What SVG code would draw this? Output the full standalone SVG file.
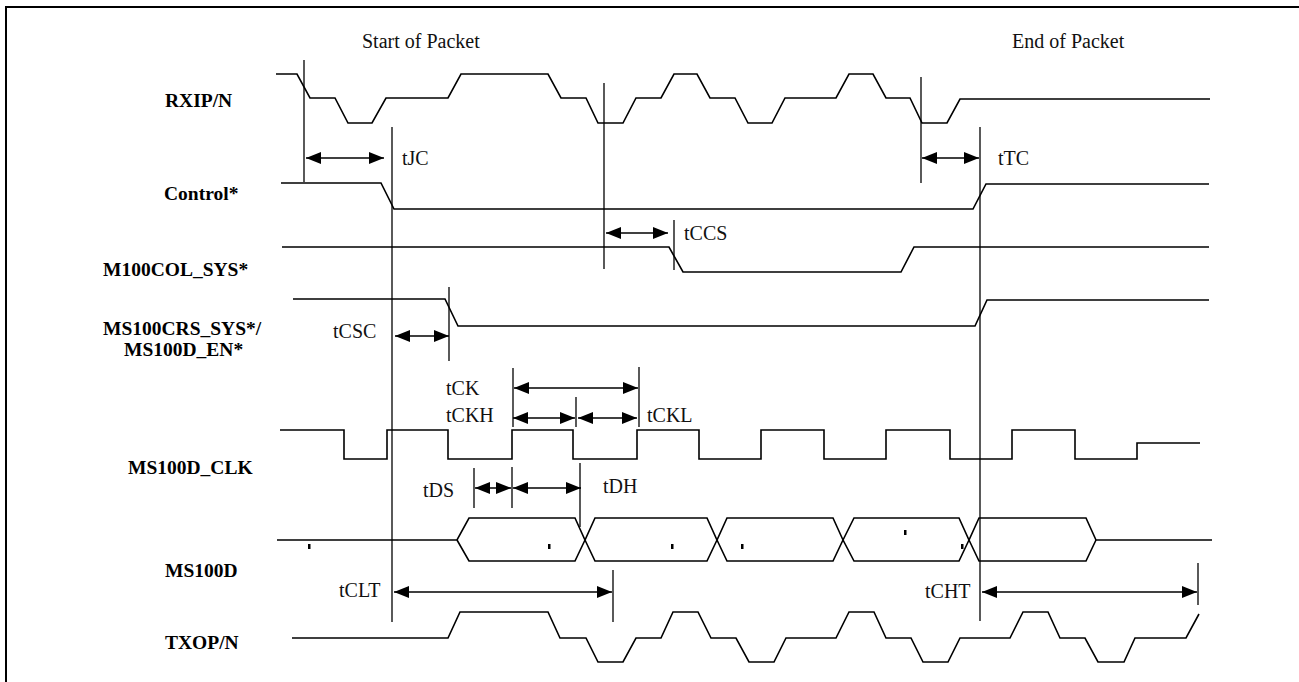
<svg xmlns="http://www.w3.org/2000/svg" width="1299" height="682" viewBox="0 0 1299 682">
<style>
.sig{fill:none;stroke:#000;stroke-width:1.6;stroke-linejoin:miter}
.vl{stroke:#000;stroke-width:1.3}
.ar{stroke:#000;stroke-width:1.3;marker-start:url(#ah);marker-end:url(#ah)}
.lbl{font-family:"Liberation Serif","Times New Roman",serif;font-weight:bold;font-size:19.5px;fill:#000}
.t{font-family:"Liberation Serif","Times New Roman",serif;font-size:20px;fill:#111}
.dot{fill:#000}
</style>
<defs>
<marker id="ah" viewBox="0 0 15 12" refX="15" refY="6" markerWidth="15" markerHeight="12" markerUnits="userSpaceOnUse" orient="auto-start-reverse">
<path d="M0,0 L15,6 L0,12 Z" fill="#000"/>
</marker>
</defs>
<rect width="1299" height="682" fill="#fff"/>
<g id="frame"><path d="M6,682 V7 H1299" fill="none" stroke="#000" stroke-width="2"/></g>
<g id="headers">
<text class="t" x="362" y="48">Start of Packet</text>
<text class="t" x="1012" y="48">End of Packet</text>
</g>
<g id="sig-rxip">
<text class="lbl" x="165" y="107">RXIP/N</text>
<path class="sig" d="M276,74 H297 L310,98 H335 L348,123 H372 L386,98 H448 L461,74 H548 L561,98 H586 L598,123 H623 L636,98 H661 L674,74 H697 L710,98 H735 L748,123 H772 L785,98 H836 L849,74 H873 L886,98 H910 L922,123 H947 L960,99 H1210"/>
</g>
<g id="sig-control">
<text class="lbl" x="164" y="200">Control*</text>
<path class="sig" d="M281,183 H381 L394,209 H973 L986,184 H1209"/>
</g>
<g id="sig-m100col">
<text class="lbl" x="103" y="276">M100COL_SYS*</text>
<path class="sig" d="M282,247 H669 L683,272 H901 L914,247 H1209"/>
</g>
<g id="sig-ms100crs">
<text class="lbl" x="103" y="335">MS100CRS_SYS*/</text>
<text class="lbl" x="124" y="356">MS100D_EN*</text>
<path class="sig" d="M293,299 H445 L458,326 H975 L987,300 H1209"/>
</g>
<g id="sig-clk">
<text class="lbl" x="128" y="474">MS100D_CLK</text>
<path class="sig" d="M280,430 H344 V459 H387 V430 H448 V459 H512 V430 H573 V459 H637 V430 H699 V459 H761 V430 H824 V459 H886 V430 H950 V459 H1012 V430 H1075 V459 H1137 V443 H1200"/>
</g>
<g id="sig-ms100d">
<text class="lbl" x="165" y="577">MS100D</text>
<path class="sig" d="M277,540 H457 L469,518 H575 L585,540 L595,518 H707 L717,540 L727,518 H833 L843,540 L854,518 H959 L969,540 L979,518 H1086 L1096,540 H1212"/>
<path class="sig" d="M457,540 L469,561 H575 L585,540 L595,561 H707 L717,540 L727,561 H833 L843,540 L854,561 H959 L969,540 L979,561 H1086 L1096,540"/>
<rect class="dot" x="308" y="544" width="2.5" height="5"/>
<rect class="dot" x="548" y="544" width="2.5" height="5"/>
<rect class="dot" x="671" y="544" width="2.5" height="5"/>
<rect class="dot" x="741" y="544" width="2.5" height="5"/>
<rect class="dot" x="904" y="530" width="2.5" height="5"/>
<rect class="dot" x="961" y="544" width="2.5" height="5"/>
</g>
<g id="sig-txop">
<text class="lbl" x="165" y="649">TXOP/N</text>
<path class="sig" d="M292,638 H448 L460,612 H548 L560,638 H586 L598,662 H623 L636,638 H661 L673,612 H698 L711,638 H736 L749,662 H774 L786,638 H836 L849,612 H874 L886,638 H911 L923,662 H948 L960,638 H1010 L1023,612 H1048 L1060,638 H1085 L1098,662 H1124 L1135,638 H1186 L1199,614"/>
</g>
<g id="connectors">
<line class="vl" x1="304" y1="60" x2="304" y2="182"/>
<line class="vl" x1="392" y1="127" x2="392" y2="622"/>
<line class="vl" x1="604" y1="83" x2="604" y2="269"/>
<line class="vl" x1="674" y1="220" x2="674" y2="270"/>
<line class="vl" x1="449" y1="287" x2="449" y2="361"/>
<line class="vl" x1="513" y1="368" x2="513" y2="427"/>
<line class="vl" x1="639" y1="367" x2="639" y2="427"/>
<line class="vl" x1="576" y1="397" x2="576" y2="427"/>
<line class="vl" x1="474" y1="468" x2="474" y2="508"/>
<line class="vl" x1="512" y1="467" x2="512" y2="508"/>
<line class="vl" x1="580" y1="463" x2="580" y2="527"/>
<line class="vl" x1="613" y1="570" x2="613" y2="622"/>
<line class="vl" x1="921" y1="77" x2="921" y2="183"/>
<line class="vl" x1="980" y1="127" x2="980" y2="621"/>
<line class="vl" x1="1198" y1="563" x2="1198" y2="605"/>
<line class="ar" x1="306" y1="158" x2="384" y2="158"/>
<line class="ar" x1="922" y1="158" x2="979" y2="158"/>
<line class="ar" x1="606" y1="233" x2="668" y2="233"/>
<line class="ar" x1="395" y1="336" x2="449" y2="336"/>
<line class="ar" x1="514" y1="388" x2="638" y2="388"/>
<line class="ar" x1="513" y1="418" x2="575" y2="418"/>
<line class="ar" x1="578" y1="418" x2="637" y2="418"/>
<line class="ar" x1="475" y1="488" x2="511" y2="488"/>
<line class="ar" x1="513" y1="488" x2="581" y2="488"/>
<line class="ar" x1="394" y1="592" x2="612" y2="592"/>
<line class="ar" x1="982" y1="592" x2="1197" y2="592"/>
</g>
<g id="timing-labels">
<text class="t" x="402" y="165">tJC</text>
<text class="t" x="998" y="165">tTC</text>
<text class="t" x="684" y="240">tCCS</text>
<text class="t" x="333" y="338">tCSC</text>
<text class="t" x="446" y="395">tCK</text>
<text class="t" x="446" y="422">tCKH</text>
<text class="t" x="647" y="422">tCKL</text>
<text class="t" x="423" y="497">tDS</text>
<text class="t" x="603" y="493">tDH</text>
<text class="t" x="339" y="597">tCLT</text>
<text class="t" x="925" y="598">tCHT</text>
</g>
</svg>
